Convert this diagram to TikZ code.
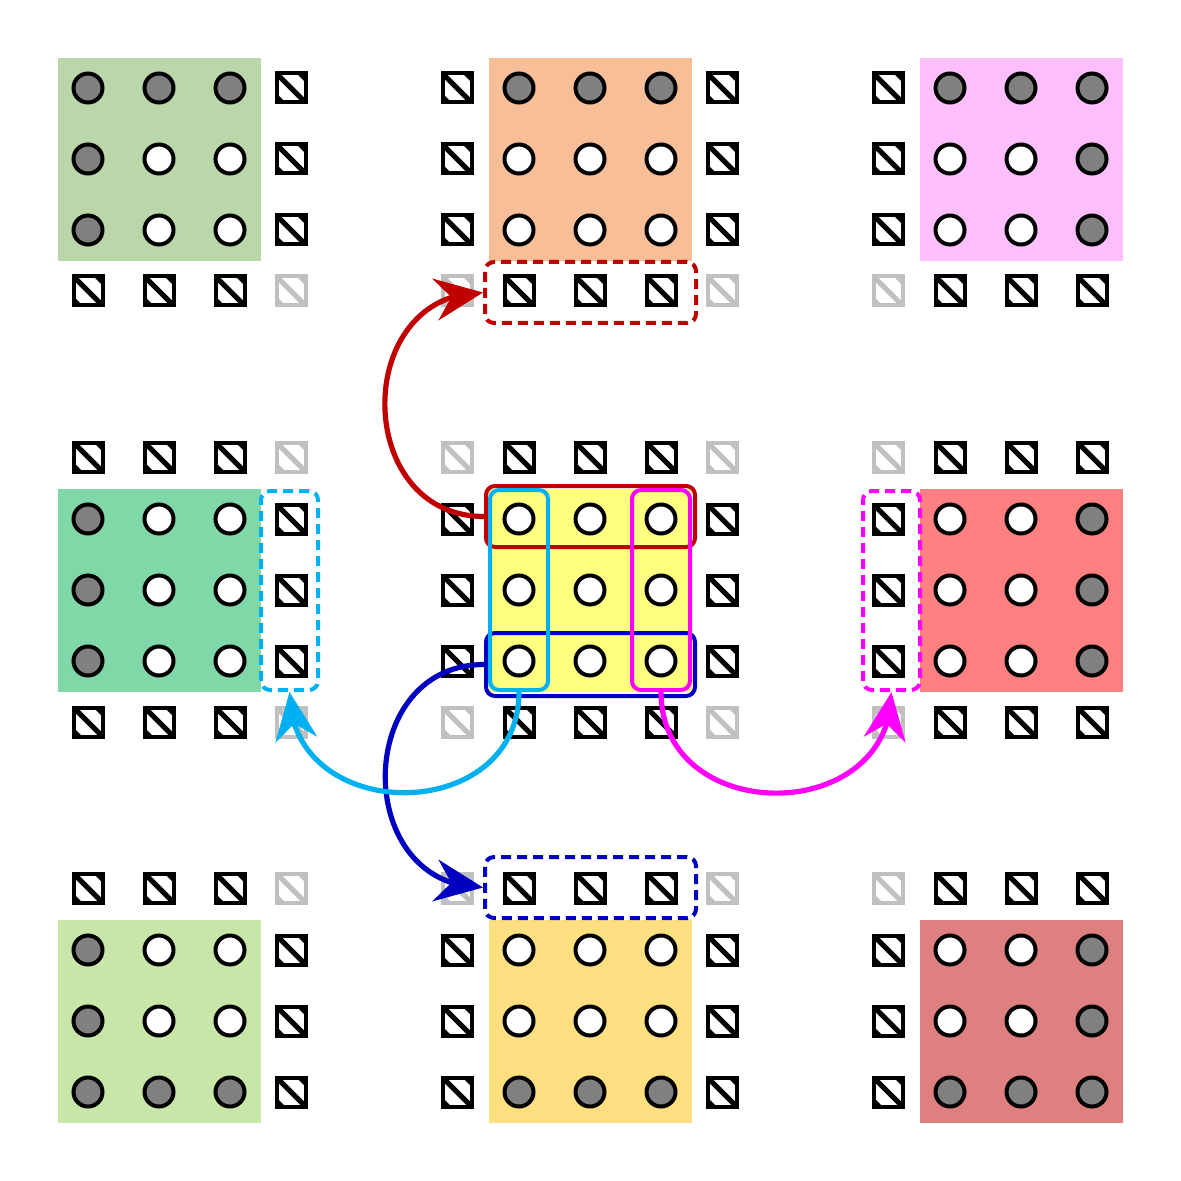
\documentclass[tikz,border=0pt]{standalone}
\usetikzlibrary{arrows.meta,bending}
\definecolor{cg}{HTML}{808080}
\definecolor{cw}{HTML}{FFFFFF}
\definecolor{sk}{HTML}{000000}
\definecolor{sl}{HTML}{C0C0C0}
\definecolor{cTL}{HTML}{B9D7A8}
\definecolor{cTC}{HTML}{F8BE98}
\definecolor{cTR}{HTML}{FFBFFF}
\definecolor{cML}{HTML}{80D8A8}
\definecolor{cC}{HTML}{FFFF80}
\definecolor{cMR}{HTML}{FF8080}
\definecolor{cBL}{HTML}{C8E6A8}
\definecolor{cBC}{HTML}{FFDF80}
\definecolor{cBR}{HTML}{DF8080}
\definecolor{myred}{HTML}{C00000}
\definecolor{myblue}{HTML}{0000C0}
\definecolor{mycyan}{HTML}{00B0F0}
\definecolor{mymag}{HTML}{FF00FF}
\tikzset{
  dotn/.style={circle, draw=black, line width=2pt, minimum size=14.5pt, inner sep=0pt, fill=#1},
  sqn/.style={rectangle, draw=#1, line width=2pt, minimum size=14.5pt, inner sep=0pt, fill=white,
    path picture={
      \draw[#1, line width=2.6pt] (path picture bounding box.north west) -- (path picture bounding box.south east);
      \fill[#1] (path picture bounding box.north east) -- ++(-4.5pt,0pt) -- ++(4.5pt,-4.5pt) -- cycle;
      \fill[#1] (path picture bounding box.south west) -- ++(4.5pt,0pt) -- ++(-4.5pt,4.5pt) -- cycle;
    }},
  blk/.style={rectangle, draw=none, fill=#1, minimum size=101.5pt, inner sep=0pt},
  hbox/.style={rectangle, draw=#1, line width=2pt, rounded corners=4.5pt, inner sep=0pt},
  dbox/.style={hbox=#1, dash pattern=on 5pt off 3pt},
  conn/.style={draw=#1, line width=2.6pt, -{Stealth[length=24pt,width=21pt,inset=8pt,flex]}}
}
\begin{document}
\begin{tikzpicture}[x=0.5pt, y=-0.5pt]
\useasboundingbox (0,0) rectangle (1181,1181);
\foreach \ox/\oy/\col/\nm/\L/\R/\T/\B in {
  0/0/cTL/TL/0/1/0/1,
  431/0/cTC/TC/1/1/0/1,
  862/0/cTR/TR/1/0/0/1,
  0/431/cML/ML/0/1/1/1,
  431/431/cC/C/1/1/1/1,
  862/431/cMR/MR/1/0/1/1,
  0/862/cBL/BL/0/1/1/0,
  431/862/cBC/BC/1/1/1/0,
  862/862/cBR/BR/1/0/1/0}{
  \node[blk=\col] (b-\nm) at (159.5+\ox,159.5+\oy) {};
  \foreach \i in {0,1,2}{
    \foreach \j in {0,1,2}{
      \pgfmathtruncatemacro\gr{((\i==0)&&(\T==0))||((\i==2)&&(\B==0))||((\j==0)&&(\L==0))||((\j==2)&&(\R==0))}
      \ifnum\gr=1 \def\fc{cg}\else\def\fc{cw}\fi
      \node[dotn=\fc] (c-\nm-\i\j) at (88+71*\j+\ox, 88+71*\i+\oy) {};
    }
  }
  \ifnum\L=1 \foreach \i in {0,1,2}{\node[sqn=sk] (s-\nm-l\i) at (26+\ox, 88+71*\i+\oy) {};}\fi
  \ifnum\R=1 \foreach \i in {0,1,2}{\node[sqn=sk] (s-\nm-r\i) at (291+\ox, 88+71*\i+\oy) {};}\fi
  \ifnum\T=1 \foreach \j in {0,1,2}{\node[sqn=sk] (s-\nm-t\j) at (88+71*\j+\ox, 26+\oy) {};}\fi
  \ifnum\B=1 \foreach \j in {0,1,2}{\node[sqn=sk] (s-\nm-b\j) at (88+71*\j+\ox, 291+\oy) {};}\fi
  \pgfmathtruncatemacro\cLT{\L*\T}
  \pgfmathtruncatemacro\cRT{\R*\T}
  \pgfmathtruncatemacro\cLB{\L*\B}
  \pgfmathtruncatemacro\cRB{\R*\B}
  \ifnum\cLT=1 \node[sqn=sl] (s-\nm-lt) at (26+\ox, 26+\oy) {};\fi
  \ifnum\cRT=1 \node[sqn=sl] (s-\nm-rt) at (291+\ox, 26+\oy) {};\fi
  \ifnum\cLB=1 \node[sqn=sl] (s-\nm-lb) at (26+\ox, 291+\oy) {};\fi
  \ifnum\cRB=1 \node[sqn=sl] (s-\nm-rb) at (291+\ox, 291+\oy) {};\fi
}
% highlight boxes
\node[hbox=myred, minimum width=104.5pt, minimum height=30.5pt] (rbox) at (590.5,516.5) {};
\node[hbox=myblue, minimum width=104.5pt, minimum height=31.5pt] (bbox) at (590.5,664.5) {};
\node[hbox=mycyan, minimum width=29pt, minimum height=100pt] (cbox) at (519,590) {};
\node[hbox=mymag, minimum width=29pt, minimum height=100pt] (mbox) at (661,590) {};
\node[dbox=myred, minimum width=105.5pt, minimum height=30.5pt] (rdash) at (590.5,292.5) {};
\node[dbox=myblue, minimum width=105.5pt, minimum height=30.5pt] (bdash) at (590.5,887.5) {};
\node[dbox=mycyan, minimum width=28.5pt, minimum height=99.5pt] (cdash) at (289.5,590.5) {};
\node[dbox=mymag, minimum width=28.5pt, minimum height=99.5pt] (mdash) at (891.5,590.5) {};
% arrows
\draw[conn=myred] (rbox.west) to[out=180, in=180, looseness=1.5] (rdash.west);
\draw[conn=myblue] (bbox.west) to[out=180, in=180, looseness=1.5] (bdash.west);
\draw[conn=mycyan] (cbox.south) to[out=-90, in=-90, looseness=1.5] (cdash.south);
\draw[conn=mymag] (mbox.south) to[out=-90, in=-90, looseness=1.5] (mdash.south);
\end{tikzpicture}
\end{document}
